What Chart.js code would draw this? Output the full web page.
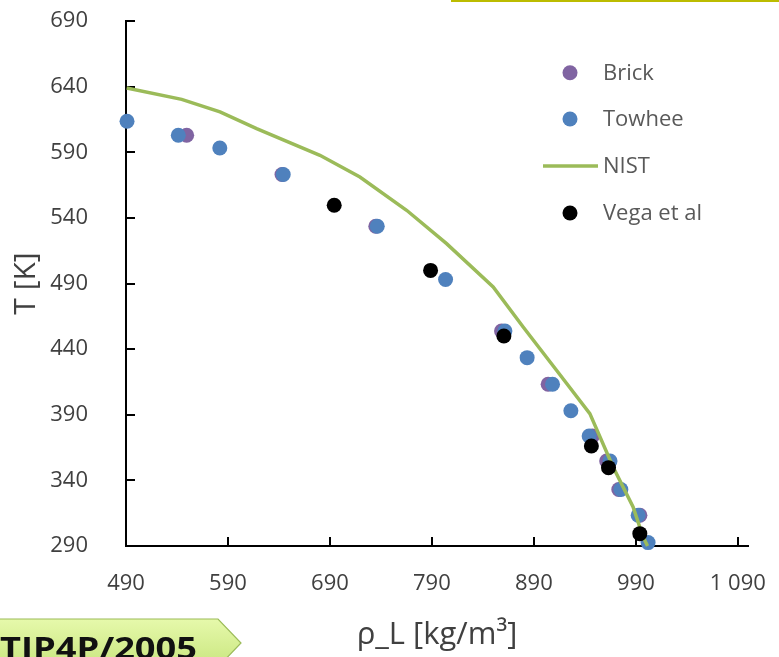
<!DOCTYPE html>
<html>
<head>
<meta charset="utf-8">
<script src="https://cdn.jsdelivr.net/npm/chart.js@4.4.1/dist/chart.umd.min.js"></script>
<style>
  html, body { margin: 0; padding: 0; background: #fff; }
  body { width: 779px; height: 657px; overflow: hidden; position: relative; }
  #plot { position: absolute; left: 0; top: 0; }
  .topline { position: absolute; left: 451px; top: 0; width: 328px; height: 2px; background: #bcbc00; }
  .tag { position: absolute; left: 0; top: 612px; }
</style>
</head>
<body>
<canvas id="plot" width="779" height="657"></canvas>
<div class="topline"></div>
<svg class="tag" width="250" height="45" viewBox="0 612 250 45">
  <defs>
    <linearGradient id="tagFill" x1="0" y1="0" x2="0" y2="1">
      <stop offset="0" stop-color="#e6f9ab"/>
      <stop offset="1" stop-color="#c9e67f"/>
    </linearGradient>
  </defs>
  <polygon points="-5,619 218,619 241,643 218,667 -5,667" fill="url(#tagFill)" stroke="#9bbb59" stroke-width="1.2"/>
  <text x="0" y="659" font-family="Open Sans" font-weight="bold" font-size="30" fill="#111"
        textLength="197" lengthAdjust="spacingAndGlyphs">TIP4P/2005</text>
</svg>

<script>
// axis ticks
const xTicks = [490, 590, 690, 790, 890, 990, 1090];
const yTicks = [290, 340, 390, 440, 490, 540, 590, 640, 690];

// Brick simulation (rho_L, T)
const brickRho = [549.5, 643, 735, 858.3, 904, 947.5, 961.4, 973.3, 994];
const brickT   = [603, 573, 533.6, 453.8, 413.2, 373.8, 354.8, 333, 313.4];

// Towhee simulation
const towheeRho = [491, 541.3, 582, 644.2, 736.4, 803.4, 861.6, 883.4, 908.3, 926.3, 944.2, 964.7, 975.3, 992.3, 1002];
const towheeT   = [613.6, 602.9, 593.2, 573, 533.6, 493, 453.8, 433.5, 413.2, 393, 373.8, 354.8, 333, 313.4, 292.6];

// NIST saturated liquid
const nistRho = [490.7, 544.6, 582.2, 618.1, 680.2, 719.4, 765.2, 804.4, 850.1, 879.5, 912.2, 944.9, 967.7, 987.3, 997.1, 1001.5];
const nistT   = [639, 630.3, 620.7, 608, 587.7, 571.1, 545.8, 520.4, 487.3, 456.9, 423.9, 390.9, 350.2, 319.7, 296.9, 290];

// Vega et al
const vegaRho = [694.2, 788.7, 860.6, 946.4, 963.2, 993.9];
const vegaT   = [549.6, 500, 450, 366.2, 349.7, 299.4];

const pairs = (xs, ys) => xs.map((x, i) => ({ x: x, y: ys[i] }));

const FONT = '"Open Sans", "Noto Sans", sans-serif';
const AXIS_COLOR = '#000';

// tick marks pointing into the plot
const innerTicks = {
  id: 'innerTicks',
  beforeDatasetsDraw(chart) {
    const { ctx, scales: { x, y } } = chart;
    ctx.save();
    ctx.strokeStyle = AXIS_COLOR;
    ctx.lineWidth = 2;
    xTicks.forEach(v => {
      const px = Math.round(x.getPixelForValue(v));
      ctx.beginPath();
      ctx.moveTo(px, y.bottom);
      ctx.lineTo(px, y.bottom - 9);
      ctx.stroke();
    });
    yTicks.forEach(v => {
      const py = Math.round(y.getPixelForValue(v));
      ctx.beginPath();
      ctx.moveTo(x.left, py);
      ctx.lineTo(x.left + 9, py);
      ctx.stroke();
    });
    ctx.restore();
  }
};

// legend sitting inside the plot, top right
const sideLegend = {
  id: 'sideLegend',
  afterDraw(chart) {
    const { ctx } = chart;
    const rows = [72.7, 119, 166, 213];
    ctx.save();
    ctx.font = '22px ' + FONT;
    ctx.textBaseline = 'middle';
    chart.data.datasets.forEach((ds, i) => {
      const yy = rows[i];
      if (ds.showLine) {
        ctx.strokeStyle = ds.borderColor;
        ctx.lineWidth = ds.borderWidth;
        ctx.beginPath();
        ctx.moveTo(543, yy);
        ctx.lineTo(598, yy);
        ctx.stroke();
      } else {
        ctx.fillStyle = ds.backgroundColor;
        ctx.beginPath();
        ctx.arc(570, yy, 7.5, 0, Math.PI * 2);
        ctx.fill();
      }
      ctx.fillStyle = '#595959';
      ctx.fillText(ds.label, 603, yy + 1);
    });
    ctx.restore();
  }
};

const fmtThousands = v => v >= 1000
  ? Math.floor(v / 1000) + ' ' + String(v % 1000).padStart(3, '0')
  : String(v);

new Chart(document.getElementById('plot'), {
  type: 'scatter',
  data: {
    datasets: [
      {
        label: 'Brick',
        data: pairs(brickRho, brickT),
        backgroundColor: '#8064a2',
        borderWidth: 0,
        pointRadius: 7.5,
        clip: false,
        order: 3
      },
      {
        label: 'Towhee',
        data: pairs(towheeRho, towheeT),
        backgroundColor: '#4f81bd',
        borderWidth: 0,
        pointRadius: 7.5,
        clip: false,
        order: 2
      },
      {
        label: 'NIST',
        data: pairs(nistRho, nistT),
        showLine: true,
        borderColor: '#9bbb59',
        borderWidth: 3.5,
        pointRadius: 0,
        tension: 0,
        clip: false,
        order: 1
      },
      {
        label: 'Vega et al',
        data: pairs(vegaRho, vegaT),
        backgroundColor: '#000000',
        borderWidth: 0,
        pointRadius: 7.5,
        clip: false,
        order: 0
      }
    ]
  },
  options: {
    responsive: false,
    animation: false,
    devicePixelRatio: 1,
    layout: { padding: { top: 21, right: 31, left: 0, bottom: 0 } },
    plugins: {
      legend: { display: false },
      tooltip: { enabled: false }
    },
    scales: {
      x: {
        type: 'linear',
        min: 490,
        max: 1100,
        afterBuildTicks: s => { s.ticks = xTicks.map(v => ({ value: v })); },
        afterFit: s => { s.height = 111; s.paddingLeft = 0; s.paddingRight = 0; },
        grid: { display: false, drawTicks: false },
        border: { display: true, color: AXIS_COLOR, width: 2 },
        ticks: {
          padding: 25,
          color: '#404040',
          font: { family: FONT, size: 22 },
          maxRotation: 0,
          autoSkip: false,
          callback: v => fmtThousands(v)
        },
        title: {
          display: true,
          text: 'ρ_L [kg/m³]',
          color: '#404040',
          font: { family: FONT, size: 31 },
          padding: { top: 0, bottom: 3 }
        }
      },
      y: {
        type: 'linear',
        min: 290,
        max: 690,
        afterBuildTicks: s => { s.ticks = yTicks.map(v => ({ value: v })); },
        afterFit: s => { s.width = 126; s.paddingTop = 0; s.paddingBottom = 0; },
        grid: { display: false, drawTicks: false },
        border: { display: true, color: AXIS_COLOR, width: 2 },
        ticks: {
          padding: 38,
          color: '#404040',
          font: { family: FONT, size: 22 },
          autoSkip: false
        },
        title: {
          display: true,
          text: 'T [K]',
          color: '#404040',
          font: { family: FONT, size: 30 },
          padding: { top: 8, bottom: 0 }
        }
      }
    }
  },
  plugins: [innerTicks, sideLegend]
});
</script>
</body>
</html>
